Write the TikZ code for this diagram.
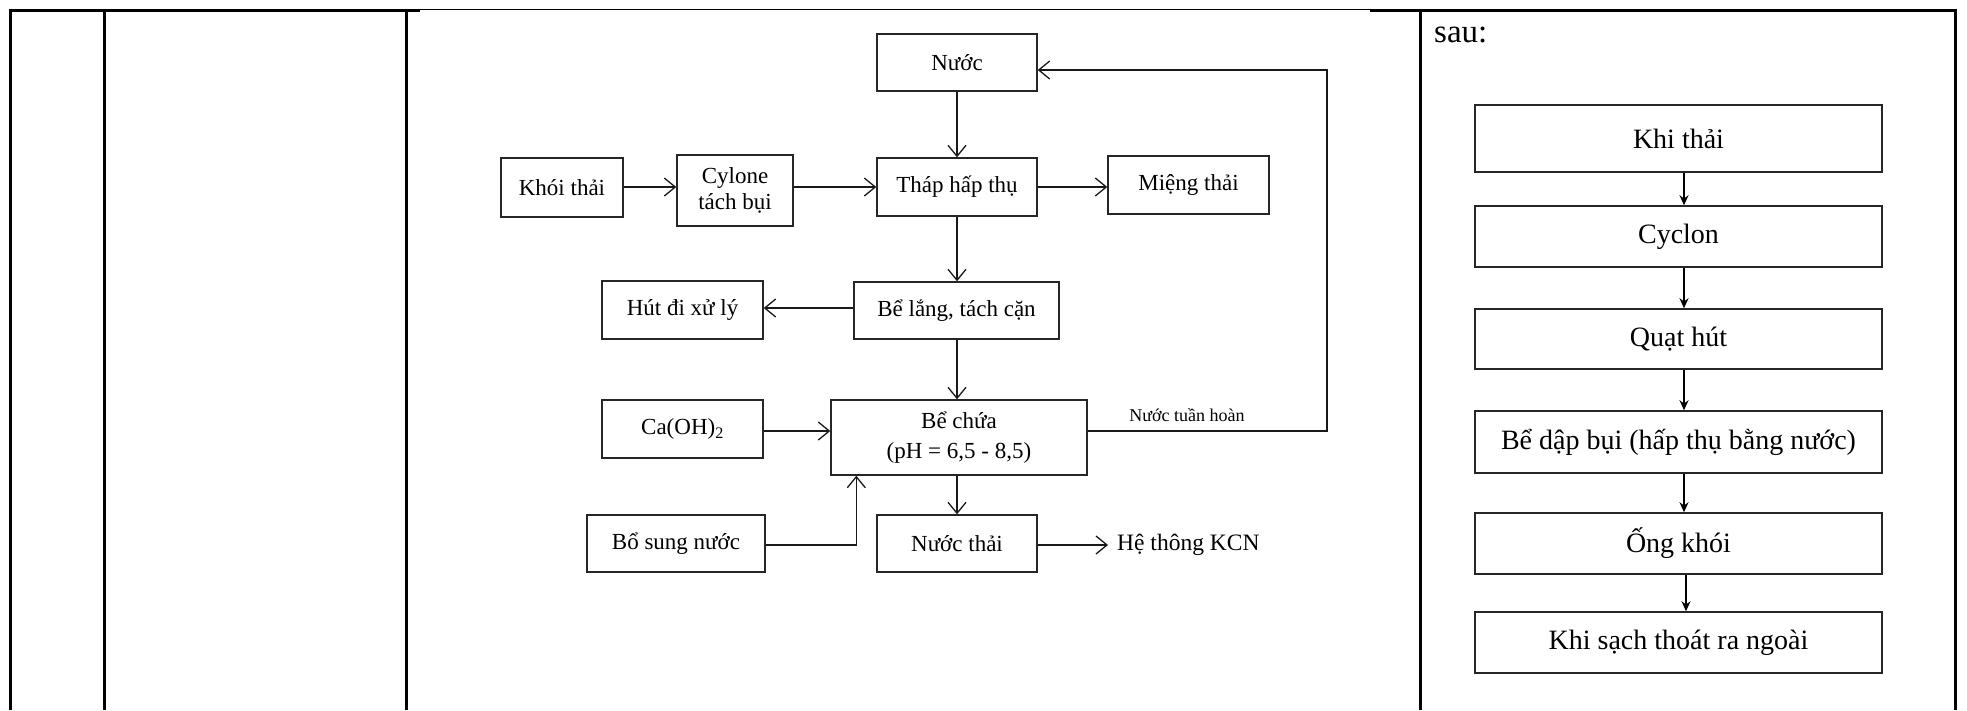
\documentclass[tikz,border=0pt]{standalone}
\usepackage{fontspec}
\setmainfont{Liberation Serif}
\usetikzlibrary{arrows.meta,calc}

\tikzset{
  gridline/.style={line width=3pt, black},
  thinline/.style={line width=1.2pt, black},
  mbox/.style={draw=black!85, line width=1.4pt, inner sep=0pt, align=center,
    font=\fontsize{23}{26}\selectfont},
  rbox/.style={draw=black!85, line width=1.5pt, inner sep=0pt, align=center,
    minimum width=407pt, font=\fontsize{28}{32}\selectfont},
  flowarrow/.style={line width=1.2pt, black!90, -{Straight Barb[length=11pt,width=18pt,line width=1.3pt]}},
  flowline/.style={line width=1.2pt, black!90},
  downarrow/.style={line width=1.3pt, black, -{Stealth[length=10pt,width=9pt]}},
}

\begin{document}
\begin{tikzpicture}[x=1pt,y=-1pt]
\useasboundingbox (0,0) rectangle (1967,710);
\fill[white] (0,0) rectangle (1967,710);

% table rules
\draw[gridline] (10,10) -- (420,10);
\draw[thinline] (420,9.5) -- (1370,9.5);
\draw[gridline] (1370,10) -- (1955,10);
\foreach \gx in {10,104,406,1420,1955}
  \draw[gridline] (\gx,8.5) -- (\gx,710);

% middle flowchart
\node[mbox, minimum width=160pt, minimum height=57pt] (nuoc) at (957,62.5) {Nước};
\node[mbox, minimum width=122pt, minimum height=59pt] (khoi) at (562,187.5) {Khói thải};
\node[mbox, minimum width=116pt, minimum height=71pt,
      font=\fontsize{23}{26}\selectfont] (cylone) at (735,190.5) {Cylone\\tách bụi};
\node[mbox, minimum width=160pt, minimum height=58pt] (thap) at (957,187) {Tháp hấp thụ};
\node[mbox, minimum width=161pt, minimum height=58pt] (mieng) at (1188.5,185) {Miệng thải};
\node[mbox, minimum width=161pt, minimum height=58pt] (hut) at (682.5,310) {Hút đi xử lý};
\node[mbox, minimum width=205pt, minimum height=57pt] (belang) at (956.5,310.5) {Bể lắng, tách cặn};
\node[mbox, minimum width=161pt, minimum height=58pt] (caoh) at (682.5,429) {Ca(OH)\textsubscript{2}};
\node[mbox, minimum width=256pt, minimum height=75pt,
      font=\fontsize{23}{30}\selectfont] (bechua) at (959,437.5) {Bể chứa\\(pH = 6,5 - 8,5)};
\node[mbox, minimum width=178pt, minimum height=57pt] (bosung) at (676,543.5) {Bổ sung nước};
\node[mbox, minimum width=160pt, minimum height=57pt] (nuocthai) at (957,543.5) {Nước thải};
\node[anchor=west, inner xsep=9pt, inner ysep=0pt,
      font=\fontsize{23.5}{26}\selectfont] (kcn) at (1108,545) {Hệ thông KCN};
\node[inner sep=0pt, font=\fontsize{18}{20}\selectfont] (tuanhoan) at (1187,415) {Nước tuần hoàn};

\coordinate (loopbot) at (1327,431);
\coordinate (looptop) at (1327,70);
\coordinate (feedx) at ($(bechua.south west)+(26,0)$);

\draw[flowarrow] (khoi.east |- 0,187) -- (cylone.west |- 0,187);
\draw[flowarrow] (cylone.east |- 0,187) -- (thap.west |- 0,187);
\draw[flowarrow] (nuoc.south) -- (thap.north);
\draw[flowarrow] (thap.east) -- (thap.east -| mieng.west);
\draw[flowarrow] (thap.south) -- (thap.south |- belang.north);
\draw[flowarrow] (belang.west |- 0,308) -- (hut.east |- 0,308);
\draw[flowarrow] (belang.south -| 957,0) -- (bechua.north -| 957,0);
\draw[flowarrow] (caoh.east |- 0,431) -- (bechua.west |- 0,431);
\draw[flowarrow] (bosung.east |- 0,545) -| (feedx);
\draw[flowarrow] (bechua.south -| 957,0) -- (nuocthai.north);
\draw[flowarrow] (nuocthai.east |- 0,545) -- (kcn.west);
\draw[flowarrow] (bechua.east |- loopbot) -- (loopbot) -- (looptop) -- (looptop -| nuoc.east);

% right column
\node[anchor=base west, inner sep=0pt, font=\fontsize{33}{36}\selectfont] (sau) at (1434,42) {sau:};

\node[rbox, minimum height=67pt] (khi) at (1678.5,138.5) {Khi thải};
\node[rbox, minimum height=61pt] (cyclon) at (1678.5,236.5) {Cyclon};
\node[rbox, minimum height=60pt] (quat) at (1678.5,339) {Quạt hút};
\node[rbox, minimum height=62pt] (bedap) at (1678.5,442) {Bể dập bụi (hấp thụ bằng nước)};
\node[rbox, minimum height=61pt] (ong) at (1678.5,543.5) {Ống khói};
\node[rbox, minimum height=61pt] (sach) at (1678.5,642.5) {Khi sạch thoát ra ngoài};

\draw[downarrow] ([xshift=5.5pt]khi.south) -- ([xshift=5.5pt]cyclon.north);
\draw[downarrow] ([xshift=5.5pt]cyclon.south) -- ([xshift=5.5pt]quat.north);
\draw[downarrow] ([xshift=5.5pt]quat.south) -- ([xshift=5.5pt]bedap.north);
\draw[downarrow] ([xshift=5.5pt]bedap.south) -- ([xshift=5.5pt]ong.north);
\draw[downarrow] ([xshift=7.5pt]ong.south) -- ([xshift=7.5pt]sach.north);
\end{tikzpicture}
\end{document}
